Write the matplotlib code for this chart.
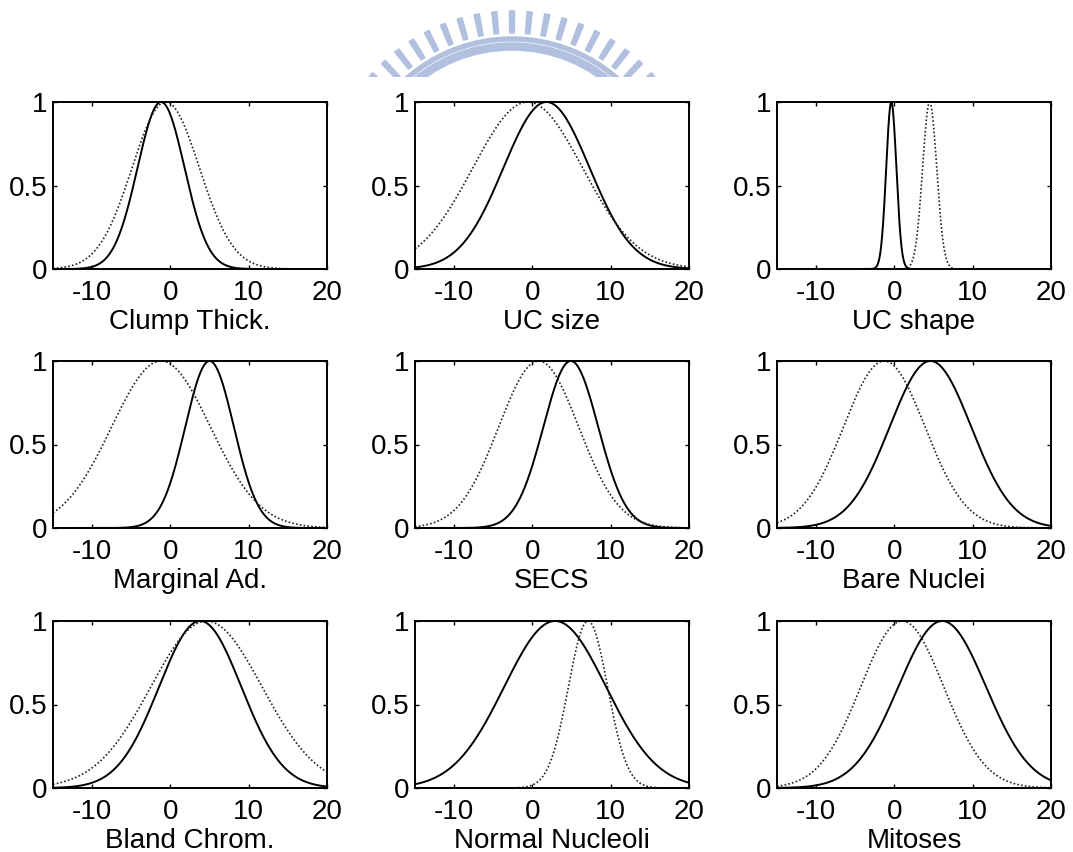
import numpy as np
import matplotlib.pyplot as plt
from matplotlib.patches import Wedge

plt.rcParams['font.family'] = ['Liberation Sans', 'DejaVu Sans']
plt.rcParams['axes.unicode_minus'] = False

# Gaussian membership functions per input feature: (centre, sigma)
features = ["Clump Thick.", "UC size", "UC shape",
            "Marginal Ad.", "SECS", "Bare Nuclei",
            "Bland Chrom.", "Normal Nucleoli", "Mitoses"]
solid_c = [-1.2, 1.8, -0.4, 5.0, 4.9, 4.6, 3.8, 2.9, 6.1]
solid_s = [3.0, 5.5, 0.65, 3.1, 3.5, 5.2, 5.25, 6.5, 5.6]
dotted_c = [-0.6, -0.6, 4.5, -1.2, 0.8, -1.3, 4.6, 7.1, 1.0]
dotted_s = [4.3, 7.0, 0.9, 6.3, 5.1, 5.2, 7.1, 2.5, 5.3]
# sampled domain of each curve
solid_dom = [(-15, 20)] * 9
dotted_dom = [(-15, 20)] * 9
solid_dom[2] = (-4.3, 3.3)
dotted_dom[2] = (-0.3, 9.9)

xticks = [-10, 0, 10, 20]
yticks = [0, 0.5, 1]

W, H = 1073, 852
fig = plt.figure(figsize=(W / 100, H / 100), dpi=100)

col_left = [53, 415, 777]
row_top = [102, 361, 621]
aw, ah = 274, 167


def gauss(x, c, s):
    return np.exp(-(x - c) ** 2 / (2 * s ** 2))


for i, name in enumerate(features):
    r, c = divmod(i, 3)
    ax = fig.add_axes([col_left[c] / W, 1 - (row_top[r] + ah) / H, aw / W, ah / H])
    x1 = np.linspace(*solid_dom[i], 600)
    x2 = np.linspace(*dotted_dom[i], 600)
    ax.plot(x1, gauss(x1, solid_c[i], solid_s[i]), color="black", lw=1.4,
            clip_on=False)
    ax.plot(x2, gauss(x2, dotted_c[i], dotted_s[i]), color="#222222", lw=1.2,
            ls=(0, (1, 1.3)), clip_on=False)
    ax.set_xlim(-15, 20)
    ax.set_ylim(0, 1)
    ax.set_xticks(xticks)
    ax.set_yticks(yticks)
    ax.set_yticklabels(["0", "0.5", "1"])
    ax.tick_params(direction="in", length=3, width=1, top=True, right=True,
                   labelsize=20, pad=4)
    ax.tick_params(axis="x", pad=8)
    ax.set_xlabel(name, fontsize=20, labelpad=2)
    for sp in ax.spines.values():
        sp.set_linewidth(1.4)

# seal watermark at the top, clipped to the strip above the plots
wm = fig.add_axes([0, 1 - 77 / H, 1, 77 / H])
wm.set_xlim(0, W)
wm.set_ylim(77, 0)
wm.axis("off")
wm_color = "#b0c0de"
cx, cy = 512, 199
wm.add_patch(Wedge((cx, cy), 162, 0, 360, width=4, color=wm_color))
wm.add_patch(Wedge((cx, cy), 156, 0, 360, width=7, color=wm_color))
for ang in np.arange(90 - 5.4 * 9, 90 + 5.4 * 9.5, 5.4):
    wm.add_patch(Wedge((cx, cy), 188, -ang - 0.8, -ang + 0.8, width=22,
                       color=wm_color))

fig.savefig("out.png", dpi=100)
